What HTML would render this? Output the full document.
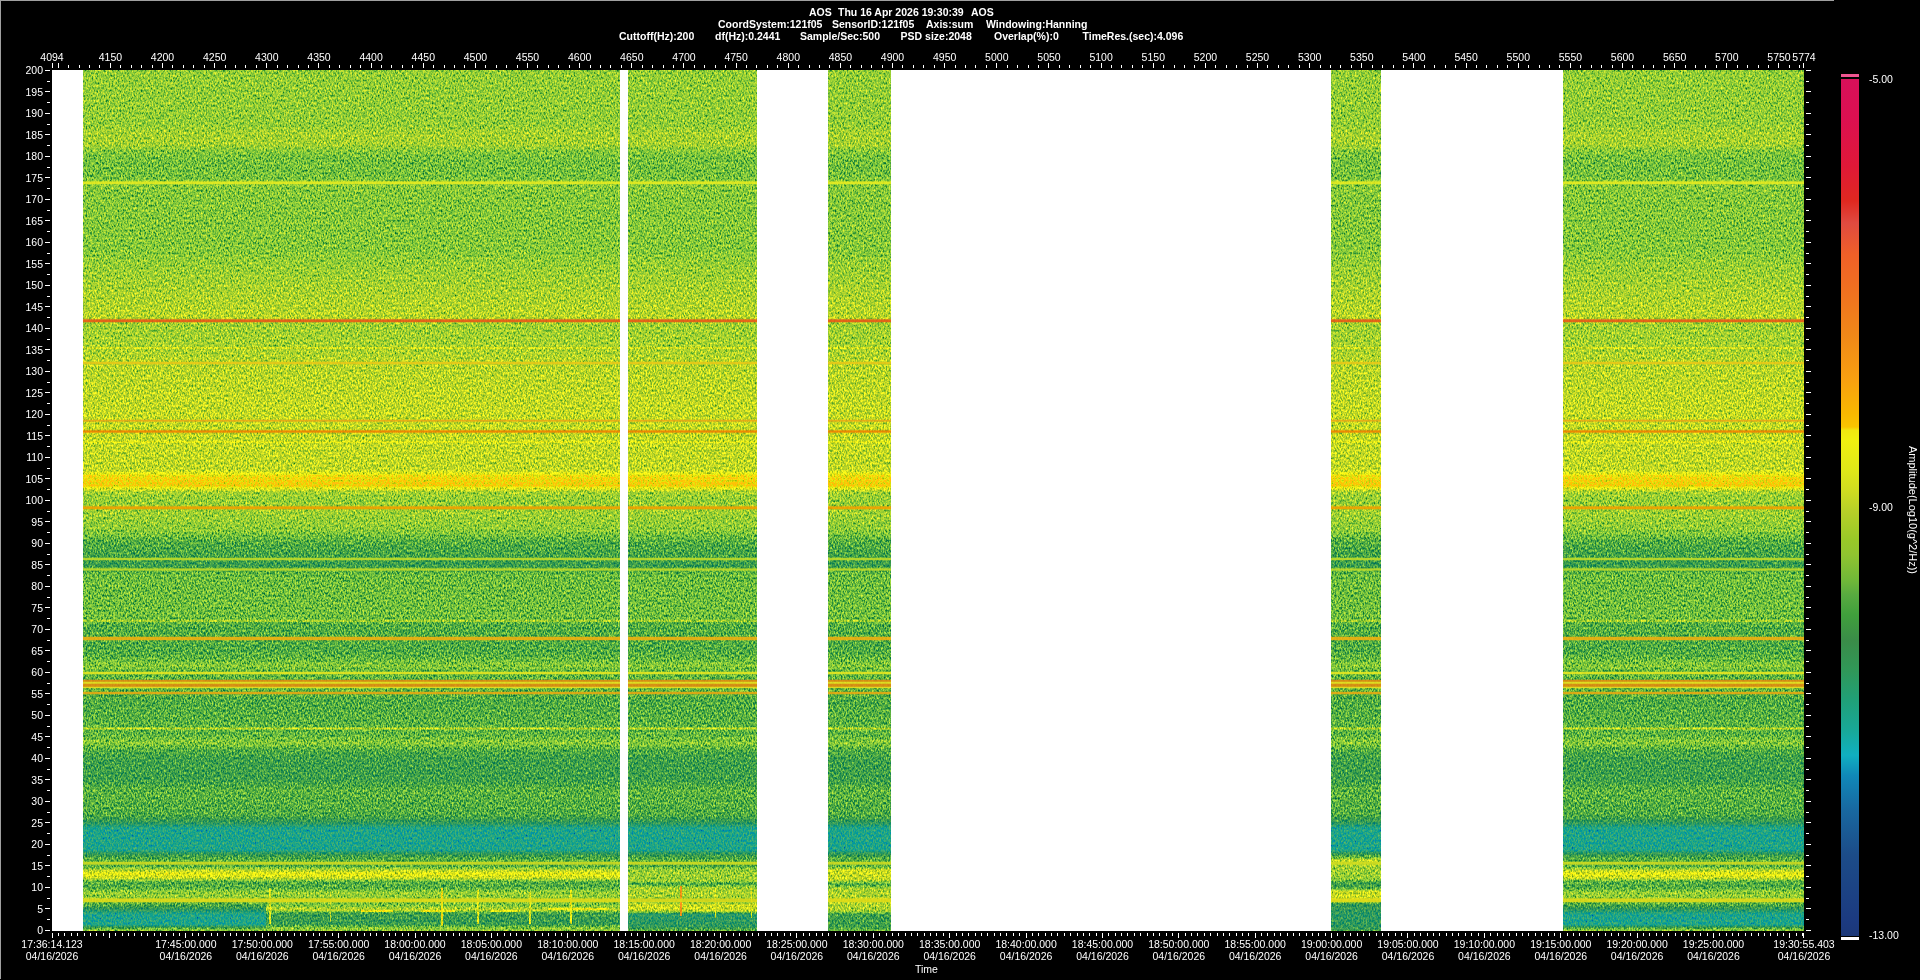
<!DOCTYPE html><html><head><meta charset="utf-8"><style>
html,body{margin:0;padding:0;background:#000;width:1920px;height:980px;overflow:hidden;position:relative}#tx{position:absolute;left:0;top:0;width:1920px;height:980px;will-change:transform}
.t{position:absolute;color:#fff;font:10.5px/12px "Liberation Sans", sans-serif;white-space:nowrap;-webkit-font-smoothing:antialiased}
.b{font-weight:bold}
.k{position:absolute;background:#fff}
</style></head><body>
<div style="position:absolute;left:0;top:0;width:1834px;height:1px;background:#a0a0a0"></div>
<div style="position:absolute;left:0;top:0;width:1px;height:979px;background:#a0a0a0"></div>
<svg style="position:absolute;left:0;top:0" width="1920" height="980"><defs><linearGradient id="bg" x1="0" y1="0" x2="0" y2="1"><stop offset="0.00000" stop-color="rgb(115,115,115)"/><stop offset="0.06388" stop-color="rgb(115,115,115)"/><stop offset="0.07317" stop-color="rgb(120,120,120)"/><stop offset="0.08711" stop-color="rgb(120,120,120)"/><stop offset="0.09292" stop-color="rgb(112,112,112)"/><stop offset="0.10221" stop-color="rgb(107,107,107)"/><stop offset="0.12311" stop-color="rgb(107,107,107)"/><stop offset="0.13473" stop-color="rgb(112,112,112)"/><stop offset="0.14518" stop-color="rgb(111,111,111)"/><stop offset="0.20906" stop-color="rgb(111,111,111)"/><stop offset="0.22300" stop-color="rgb(115,115,115)"/><stop offset="0.25552" stop-color="rgb(121,121,121)"/><stop offset="0.28804" stop-color="rgb(126,126,126)"/><stop offset="0.29617" stop-color="rgb(119,119,119)"/><stop offset="0.31940" stop-color="rgb(120,120,120)"/><stop offset="0.33914" stop-color="rgb(125,125,125)"/><stop offset="0.38328" stop-color="rgb(128,128,128)"/><stop offset="0.40418" stop-color="rgb(129,129,129)"/><stop offset="0.46458" stop-color="rgb(128,128,128)"/><stop offset="0.47154" stop-color="rgb(149,149,149)"/><stop offset="0.48316" stop-color="rgb(153,153,153)"/><stop offset="0.49013" stop-color="rgb(120,120,120)"/><stop offset="0.49942" stop-color="rgb(115,115,115)"/><stop offset="0.51103" stop-color="rgb(119,119,119)"/><stop offset="0.53426" stop-color="rgb(113,113,113)"/><stop offset="0.54820" stop-color="rgb(99,99,99)"/><stop offset="0.56446" stop-color="rgb(94,94,94)"/><stop offset="0.57491" stop-color="rgb(89,89,89)"/><stop offset="0.58653" stop-color="rgb(105,105,105)"/><stop offset="0.63298" stop-color="rgb(106,106,106)"/><stop offset="0.64460" stop-color="rgb(99,99,99)"/><stop offset="0.67364" stop-color="rgb(98,98,98)"/><stop offset="0.68293" stop-color="rgb(102,102,102)"/><stop offset="0.69222" stop-color="rgb(112,112,112)"/><stop offset="0.69803" stop-color="rgb(102,102,102)"/><stop offset="0.72009" stop-color="rgb(102,102,102)"/><stop offset="0.73171" stop-color="rgb(98,98,98)"/><stop offset="0.77236" stop-color="rgb(102,102,102)"/><stop offset="0.78165" stop-color="rgb(112,112,112)"/><stop offset="0.78978" stop-color="rgb(98,98,98)"/><stop offset="0.80139" stop-color="rgb(92,92,92)"/><stop offset="0.82462" stop-color="rgb(92,92,92)"/><stop offset="0.83624" stop-color="rgb(101,101,101)"/><stop offset="0.86527" stop-color="rgb(98,98,98)"/><stop offset="0.87340" stop-color="rgb(84,84,84)"/><stop offset="0.88037" stop-color="rgb(66,66,66)"/><stop offset="0.90592" stop-color="rgb(66,66,66)"/><stop offset="0.91289" stop-color="rgb(92,92,92)"/><stop offset="0.91870" stop-color="rgb(102,102,102)"/><stop offset="0.92451" stop-color="rgb(97,97,97)"/><stop offset="0.92915" stop-color="rgb(125,125,125)"/><stop offset="0.93380" stop-color="rgb(143,143,143)"/><stop offset="0.93844" stop-color="rgb(130,130,130)"/><stop offset="0.94309" stop-color="rgb(99,99,99)"/><stop offset="0.95006" stop-color="rgb(99,99,99)"/><stop offset="0.95470" stop-color="rgb(115,115,115)"/><stop offset="0.95935" stop-color="rgb(115,115,115)"/><stop offset="0.96980" stop-color="rgb(97,97,97)"/><stop offset="0.97561" stop-color="rgb(79,79,79)"/><stop offset="0.98026" stop-color="rgb(66,66,66)"/><stop offset="0.99303" stop-color="rgb(66,66,66)"/><stop offset="0.99768" stop-color="rgb(107,107,107)"/><stop offset="1.00000" stop-color="rgb(115,115,115)"/></linearGradient><filter id="nz" x="52" y="70" width="1752" height="861" filterUnits="userSpaceOnUse" color-interpolation-filters="sRGB"><feTurbulence type="fractalNoise" baseFrequency="0.65 0.4" numOctaves="2" seed="7" result="n"/><feColorMatrix in="n" type="matrix" values="1 0 0 0 0 1 0 0 0 0 1 0 0 0 0 0 0 0 0 1" result="g0"/><feComponentTransfer in="g0" result="g1"><feFuncR type="gamma" amplitude="1" exponent="0.4" offset="0"/><feFuncG type="gamma" amplitude="1" exponent="0.4" offset="0"/><feFuncB type="gamma" amplitude="1" exponent="0.4" offset="0"/></feComponentTransfer><feComposite in="SourceGraphic" in2="g0" operator="arithmetic" k1="0" k2="1" k3="0.2" k4="-0.1000" result="v"/><feComponentTransfer in="v" result="base"><feFuncR type="table" tableValues="0.110 0.110 0.110 0.110 0.110 0.110 0.110 0.110 0.110 0.110 0.107 0.104 0.100 0.097 0.094 0.086 0.077 0.069 0.063 0.063 0.063 0.074 0.085 0.096 0.105 0.115 0.124 0.138 0.152 0.166 0.179 0.191 0.203 0.216 0.235 0.255 0.283 0.326 0.370 0.419 0.461 0.500 0.538 0.577 0.615 0.648 0.681 0.714 0.755 0.798 0.832 0.860 0.884 0.903 0.922 0.941 0.941 0.973 0.973 0.973 0.973 0.973 0.970 0.964 0.958 0.951 0.945 0.941 0.941 0.941 0.941 0.941 0.941 0.941 0.941 0.941 0.933 0.915 0.897 0.879 0.878 0.878 0.878 0.878 0.878 0.878 0.877 0.874 0.870 0.867 0.864 0.861 0.857 0.854 0.850 0.847"/><feFuncG type="table" tableValues="0.220 0.225 0.232 0.241 0.251 0.260 0.270 0.279 0.288 0.298 0.320 0.342 0.364 0.386 0.409 0.442 0.475 0.508 0.550 0.618 0.687 0.679 0.668 0.657 0.648 0.638 0.629 0.619 0.610 0.600 0.596 0.596 0.596 0.600 0.616 0.633 0.651 0.673 0.698 0.736 0.762 0.777 0.792 0.803 0.812 0.818 0.824 0.830 0.843 0.857 0.875 0.896 0.913 0.922 0.932 0.941 0.911 0.751 0.720 0.695 0.669 0.644 0.621 0.602 0.583 0.564 0.545 0.526 0.507 0.488 0.470 0.451 0.433 0.417 0.401 0.385 0.365 0.340 0.316 0.291 0.238 0.184 0.149 0.133 0.118 0.102 0.091 0.085 0.078 0.072 0.066 0.063 0.063 0.063 0.063 0.063"/><feFuncB type="table" tableValues="0.471 0.491 0.504 0.508 0.512 0.517 0.521 0.525 0.529 0.533 0.552 0.571 0.590 0.609 0.628 0.653 0.678 0.703 0.725 0.739 0.752 0.699 0.642 0.589 0.551 0.513 0.475 0.446 0.418 0.389 0.366 0.347 0.328 0.310 0.293 0.277 0.264 0.257 0.249 0.239 0.234 0.231 0.228 0.213 0.195 0.183 0.171 0.159 0.146 0.131 0.117 0.103 0.091 0.082 0.072 0.063 0.063 0.000 0.001 0.018 0.035 0.052 0.065 0.071 0.078 0.084 0.090 0.097 0.103 0.109 0.115 0.122 0.128 0.137 0.145 0.153 0.170 0.196 0.223 0.250 0.202 0.151 0.137 0.161 0.184 0.208 0.229 0.248 0.267 0.286 0.305 0.319 0.327 0.336 0.344 0.353"/></feComponentTransfer><feColorMatrix in="g1" type="matrix" values="1.2 0 0 0 -0.4010 0 0.85 0 0 -0.1382 0 0 0.3 0 0.2748 0 0 0 0 1" result="g"/><feComposite in="base" in2="g" operator="arithmetic" k1="0" k2="1" k3="0.95" k4="-0.4750"/></filter></defs><g filter="url(#nz)"><rect x="52" y="70" width="1752" height="861" fill="url(#bg)"/><linearGradient id="pg0" x1="0" y1="0" x2="0" y2="1"><stop offset="0.00000" stop-color="rgb(115,115,115)"/><stop offset="0.16129" stop-color="rgb(107,107,107)"/><stop offset="0.32258" stop-color="rgb(128,128,128)"/><stop offset="0.41935" stop-color="rgb(92,92,92)"/><stop offset="0.77419" stop-color="rgb(87,87,87)"/><stop offset="0.90323" stop-color="rgb(112,112,112)"/><stop offset="1.00000" stop-color="rgb(115,115,115)"/></linearGradient><rect x="266" y="900" width="354" height="31" fill="url(#pg0)"/><linearGradient id="pg1" x1="0" y1="0" x2="0" y2="1"><stop offset="0.00000" stop-color="rgb(97,97,97)"/><stop offset="0.06154" stop-color="rgb(117,117,117)"/><stop offset="0.23077" stop-color="rgb(117,117,117)"/><stop offset="0.27692" stop-color="rgb(94,94,94)"/><stop offset="0.33846" stop-color="rgb(122,122,122)"/><stop offset="0.47692" stop-color="rgb(120,120,120)"/><stop offset="0.52308" stop-color="rgb(92,92,92)"/><stop offset="0.60000" stop-color="rgb(133,133,133)"/><stop offset="0.69231" stop-color="rgb(128,128,128)"/><stop offset="0.73846" stop-color="rgb(76,76,76)"/><stop offset="0.93846" stop-color="rgb(82,82,82)"/><stop offset="1.00000" stop-color="rgb(107,107,107)"/></linearGradient><rect x="628" y="866" width="129" height="65" fill="url(#pg1)"/><linearGradient id="pg2" x1="0" y1="0" x2="0" y2="1"><stop offset="0.00000" stop-color="rgb(97,97,97)"/><stop offset="0.06154" stop-color="rgb(133,133,133)"/><stop offset="0.21538" stop-color="rgb(128,128,128)"/><stop offset="0.27692" stop-color="rgb(94,94,94)"/><stop offset="0.35385" stop-color="rgb(122,122,122)"/><stop offset="0.69231" stop-color="rgb(122,122,122)"/><stop offset="0.73846" stop-color="rgb(92,92,92)"/><stop offset="0.93846" stop-color="rgb(92,92,92)"/><stop offset="1.00000" stop-color="rgb(107,107,107)"/></linearGradient><rect x="828" y="866" width="63" height="65" fill="url(#pg2)"/><linearGradient id="pg3" x1="0" y1="0" x2="0" y2="1"><stop offset="0.00000" stop-color="rgb(76,76,76)"/><stop offset="0.06329" stop-color="rgb(102,102,102)"/><stop offset="0.10127" stop-color="rgb(128,128,128)"/><stop offset="0.16456" stop-color="rgb(120,120,120)"/><stop offset="0.34177" stop-color="rgb(115,115,115)"/><stop offset="0.39241" stop-color="rgb(92,92,92)"/><stop offset="0.45570" stop-color="rgb(97,97,97)"/><stop offset="0.50633" stop-color="rgb(133,133,133)"/><stop offset="0.60759" stop-color="rgb(128,128,128)"/><stop offset="0.65823" stop-color="rgb(87,87,87)"/><stop offset="0.79747" stop-color="rgb(79,79,79)"/><stop offset="0.97468" stop-color="rgb(84,84,84)"/><stop offset="1.00000" stop-color="rgb(102,102,102)"/></linearGradient><rect x="1331" y="852" width="50" height="79" fill="url(#pg3)"/><rect x="269" y="888" width="2" height="36" fill="rgb(140,140,140)"/><rect x="330" y="892" width="1" height="30" fill="rgb(128,128,128)"/><rect x="441" y="888" width="2" height="38" fill="rgb(148,148,148)"/><rect x="477" y="890" width="2" height="34" fill="rgb(140,140,140)"/><rect x="529" y="892" width="2" height="32" fill="rgb(140,140,140)"/><rect x="570" y="890" width="2" height="34" fill="rgb(143,143,143)"/><rect x="680" y="886" width="2" height="30" fill="rgb(173,173,173)"/><rect x="715" y="888" width="1" height="30" fill="rgb(140,140,140)"/><rect x="751" y="888" width="1" height="30" fill="rgb(140,140,140)"/><rect x="361" y="910" width="32" height="2" fill="rgb(145,145,145)"/><rect x="421" y="910" width="34" height="2" fill="rgb(145,145,145)"/><rect x="490" y="910" width="30" height="2" fill="rgb(140,140,140)"/><rect x="548" y="908" width="60" height="2" fill="rgb(143,143,143)"/><rect x="52" y="347" width="1752" height="2" fill="rgb(133,133,133)"/><rect x="52" y="441" width="1752" height="2" fill="rgb(138,138,138)"/><rect x="52" y="619.5" width="1752" height="2.5" fill="rgb(120,120,120)"/><rect x="52" y="727.5" width="1752" height="2" fill="rgb(128,128,128)"/></g><rect x="52" y="180.75" width="1752" height="4.0" fill="#e8ec20" fill-opacity="0.3"/><rect x="52" y="181.5" width="1752" height="2.5" fill="#e8ec20" fill-opacity="0.85"/><rect x="52" y="318.75" width="1752" height="4.0" fill="#e85818" fill-opacity="0.3"/><rect x="52" y="319.5" width="1752" height="2.5" fill="#e85818" fill-opacity="0.85"/><rect x="52" y="361.25" width="1752" height="3.5" fill="#e8c818" fill-opacity="0.3"/><rect x="52" y="362" width="1752" height="2" fill="#e8c818" fill-opacity="0.85"/><rect x="52" y="419.25" width="1752" height="3.0" fill="#e8a818" fill-opacity="0.3"/><rect x="52" y="420" width="1752" height="1.5" fill="#e8a818" fill-opacity="0.85"/><rect x="52" y="429.75" width="1752" height="3.5" fill="#f08000" fill-opacity="0.3"/><rect x="52" y="430.5" width="1752" height="2" fill="#f08000" fill-opacity="0.85"/><rect x="52" y="505.75" width="1752" height="4.0" fill="#f0a000" fill-opacity="0.3"/><rect x="52" y="506.5" width="1752" height="2.5" fill="#f0a000" fill-opacity="0.85"/><rect x="52" y="557.25" width="1752" height="3.5" fill="#c0dc28" fill-opacity="0.3"/><rect x="52" y="558" width="1752" height="2" fill="#c0dc28" fill-opacity="0.85"/><rect x="52" y="567.75" width="1752" height="3.5" fill="#c0dc28" fill-opacity="0.3"/><rect x="52" y="568.5" width="1752" height="2" fill="#c0dc28" fill-opacity="0.85"/><rect x="52" y="636.25" width="1752" height="4.5" fill="#f0b010" fill-opacity="0.3"/><rect x="52" y="637" width="1752" height="3" fill="#f0b010" fill-opacity="0.85"/><rect x="52" y="671.25" width="1752" height="3.5" fill="#e8e820" fill-opacity="0.3"/><rect x="52" y="672" width="1752" height="2" fill="#e8e820" fill-opacity="0.85"/><rect x="52" y="679.25" width="1752" height="3.5" fill="#e08a10" fill-opacity="0.3"/><rect x="52" y="680" width="1752" height="2" fill="#e08a10" fill-opacity="0.85"/><rect x="52" y="681.25" width="1752" height="3.5" fill="#e8e020" fill-opacity="0.3"/><rect x="52" y="682" width="1752" height="2" fill="#e8e020" fill-opacity="0.85"/><rect x="52" y="683.25" width="1752" height="4.5" fill="#e08a10" fill-opacity="0.3"/><rect x="52" y="684" width="1752" height="3" fill="#e08a10" fill-opacity="0.85"/><rect x="52" y="686.25" width="1752" height="2.5" fill="#e8e020" fill-opacity="0.3"/><rect x="52" y="687" width="1752" height="1" fill="#e8e020" fill-opacity="0.85"/><rect x="52" y="691.25" width="1752" height="3.5" fill="#e8a810" fill-opacity="0.3"/><rect x="52" y="692" width="1752" height="2" fill="#e8a810" fill-opacity="0.85"/><rect x="52" y="861.25" width="1752" height="4.0" fill="#d0dc20" fill-opacity="0.3"/><rect x="52" y="862" width="1752" height="2.5" fill="#d0dc20" fill-opacity="0.85"/><rect x="52" y="897.75" width="1752" height="5.0" fill="#e0dc18" fill-opacity="0.3"/><rect x="52" y="898.5" width="1752" height="3.5" fill="#e0dc18" fill-opacity="0.85"/><rect x="52" y="70" width="31" height="861" fill="#fff"/><rect x="620" y="70" width="8" height="861" fill="#fff"/><rect x="757" y="70" width="71" height="861" fill="#fff"/><rect x="891" y="70" width="440" height="861" fill="#fff"/><rect x="1381" y="70" width="182" height="861" fill="#fff"/><rect x="58.00" y="63" width="1" height="5" fill="#fff"/><rect x="68.00" y="65" width="1" height="3" fill="#fff"/><rect x="79.00" y="65" width="1" height="3" fill="#fff"/><rect x="89.00" y="65" width="1" height="3" fill="#fff"/><rect x="99.00" y="65" width="1" height="3" fill="#fff"/><rect x="110.00" y="63" width="1" height="5" fill="#fff"/><rect x="120.00" y="65" width="1" height="3" fill="#fff"/><rect x="131.00" y="65" width="1" height="3" fill="#fff"/><rect x="141.00" y="65" width="1" height="3" fill="#fff"/><rect x="152.00" y="65" width="1" height="3" fill="#fff"/><rect x="162.00" y="63" width="1" height="5" fill="#fff"/><rect x="172.00" y="65" width="1" height="3" fill="#fff"/><rect x="183.00" y="65" width="1" height="3" fill="#fff"/><rect x="193.00" y="65" width="1" height="3" fill="#fff"/><rect x="204.00" y="65" width="1" height="3" fill="#fff"/><rect x="214.00" y="63" width="1" height="5" fill="#fff"/><rect x="225.00" y="65" width="1" height="3" fill="#fff"/><rect x="235.00" y="65" width="1" height="3" fill="#fff"/><rect x="245.00" y="65" width="1" height="3" fill="#fff"/><rect x="256.00" y="65" width="1" height="3" fill="#fff"/><rect x="266.00" y="63" width="1" height="5" fill="#fff"/><rect x="277.00" y="65" width="1" height="3" fill="#fff"/><rect x="287.00" y="65" width="1" height="3" fill="#fff"/><rect x="298.00" y="65" width="1" height="3" fill="#fff"/><rect x="308.00" y="65" width="1" height="3" fill="#fff"/><rect x="318.00" y="63" width="1" height="5" fill="#fff"/><rect x="329.00" y="65" width="1" height="3" fill="#fff"/><rect x="339.00" y="65" width="1" height="3" fill="#fff"/><rect x="350.00" y="65" width="1" height="3" fill="#fff"/><rect x="360.00" y="65" width="1" height="3" fill="#fff"/><rect x="371.00" y="63" width="1" height="5" fill="#fff"/><rect x="381.00" y="65" width="1" height="3" fill="#fff"/><rect x="391.00" y="65" width="1" height="3" fill="#fff"/><rect x="402.00" y="65" width="1" height="3" fill="#fff"/><rect x="412.00" y="65" width="1" height="3" fill="#fff"/><rect x="423.00" y="63" width="1" height="5" fill="#fff"/><rect x="433.00" y="65" width="1" height="3" fill="#fff"/><rect x="444.00" y="65" width="1" height="3" fill="#fff"/><rect x="454.00" y="65" width="1" height="3" fill="#fff"/><rect x="464.00" y="65" width="1" height="3" fill="#fff"/><rect x="475.00" y="63" width="1" height="5" fill="#fff"/><rect x="485.00" y="65" width="1" height="3" fill="#fff"/><rect x="496.00" y="65" width="1" height="3" fill="#fff"/><rect x="506.00" y="65" width="1" height="3" fill="#fff"/><rect x="517.00" y="65" width="1" height="3" fill="#fff"/><rect x="527.00" y="63" width="1" height="5" fill="#fff"/><rect x="537.00" y="65" width="1" height="3" fill="#fff"/><rect x="548.00" y="65" width="1" height="3" fill="#fff"/><rect x="558.00" y="65" width="1" height="3" fill="#fff"/><rect x="569.00" y="65" width="1" height="3" fill="#fff"/><rect x="579.00" y="63" width="1" height="5" fill="#fff"/><rect x="590.00" y="65" width="1" height="3" fill="#fff"/><rect x="600.00" y="65" width="1" height="3" fill="#fff"/><rect x="610.00" y="65" width="1" height="3" fill="#fff"/><rect x="621.00" y="65" width="1" height="3" fill="#fff"/><rect x="631.00" y="63" width="1" height="5" fill="#fff"/><rect x="642.00" y="65" width="1" height="3" fill="#fff"/><rect x="652.00" y="65" width="1" height="3" fill="#fff"/><rect x="663.00" y="65" width="1" height="3" fill="#fff"/><rect x="673.00" y="65" width="1" height="3" fill="#fff"/><rect x="683.00" y="63" width="1" height="5" fill="#fff"/><rect x="694.00" y="65" width="1" height="3" fill="#fff"/><rect x="704.00" y="65" width="1" height="3" fill="#fff"/><rect x="715.00" y="65" width="1" height="3" fill="#fff"/><rect x="725.00" y="65" width="1" height="3" fill="#fff"/><rect x="736.00" y="63" width="1" height="5" fill="#fff"/><rect x="746.00" y="65" width="1" height="3" fill="#fff"/><rect x="756.00" y="65" width="1" height="3" fill="#fff"/><rect x="767.00" y="65" width="1" height="3" fill="#fff"/><rect x="777.00" y="65" width="1" height="3" fill="#fff"/><rect x="788.00" y="63" width="1" height="5" fill="#fff"/><rect x="798.00" y="65" width="1" height="3" fill="#fff"/><rect x="809.00" y="65" width="1" height="3" fill="#fff"/><rect x="819.00" y="65" width="1" height="3" fill="#fff"/><rect x="829.00" y="65" width="1" height="3" fill="#fff"/><rect x="840.00" y="63" width="1" height="5" fill="#fff"/><rect x="850.00" y="65" width="1" height="3" fill="#fff"/><rect x="861.00" y="65" width="1" height="3" fill="#fff"/><rect x="871.00" y="65" width="1" height="3" fill="#fff"/><rect x="882.00" y="65" width="1" height="3" fill="#fff"/><rect x="892.00" y="63" width="1" height="5" fill="#fff"/><rect x="902.00" y="65" width="1" height="3" fill="#fff"/><rect x="913.00" y="65" width="1" height="3" fill="#fff"/><rect x="923.00" y="65" width="1" height="3" fill="#fff"/><rect x="934.00" y="65" width="1" height="3" fill="#fff"/><rect x="944.00" y="63" width="1" height="5" fill="#fff"/><rect x="955.00" y="65" width="1" height="3" fill="#fff"/><rect x="965.00" y="65" width="1" height="3" fill="#fff"/><rect x="975.00" y="65" width="1" height="3" fill="#fff"/><rect x="986.00" y="65" width="1" height="3" fill="#fff"/><rect x="996.00" y="63" width="1" height="5" fill="#fff"/><rect x="1007.00" y="65" width="1" height="3" fill="#fff"/><rect x="1017.00" y="65" width="1" height="3" fill="#fff"/><rect x="1028.00" y="65" width="1" height="3" fill="#fff"/><rect x="1038.00" y="65" width="1" height="3" fill="#fff"/><rect x="1048.00" y="63" width="1" height="5" fill="#fff"/><rect x="1059.00" y="65" width="1" height="3" fill="#fff"/><rect x="1069.00" y="65" width="1" height="3" fill="#fff"/><rect x="1080.00" y="65" width="1" height="3" fill="#fff"/><rect x="1090.00" y="65" width="1" height="3" fill="#fff"/><rect x="1101.00" y="63" width="1" height="5" fill="#fff"/><rect x="1111.00" y="65" width="1" height="3" fill="#fff"/><rect x="1121.00" y="65" width="1" height="3" fill="#fff"/><rect x="1132.00" y="65" width="1" height="3" fill="#fff"/><rect x="1142.00" y="65" width="1" height="3" fill="#fff"/><rect x="1153.00" y="63" width="1" height="5" fill="#fff"/><rect x="1163.00" y="65" width="1" height="3" fill="#fff"/><rect x="1174.00" y="65" width="1" height="3" fill="#fff"/><rect x="1184.00" y="65" width="1" height="3" fill="#fff"/><rect x="1194.00" y="65" width="1" height="3" fill="#fff"/><rect x="1205.00" y="63" width="1" height="5" fill="#fff"/><rect x="1215.00" y="65" width="1" height="3" fill="#fff"/><rect x="1226.00" y="65" width="1" height="3" fill="#fff"/><rect x="1236.00" y="65" width="1" height="3" fill="#fff"/><rect x="1247.00" y="65" width="1" height="3" fill="#fff"/><rect x="1257.00" y="63" width="1" height="5" fill="#fff"/><rect x="1267.00" y="65" width="1" height="3" fill="#fff"/><rect x="1278.00" y="65" width="1" height="3" fill="#fff"/><rect x="1288.00" y="65" width="1" height="3" fill="#fff"/><rect x="1299.00" y="65" width="1" height="3" fill="#fff"/><rect x="1309.00" y="63" width="1" height="5" fill="#fff"/><rect x="1320.00" y="65" width="1" height="3" fill="#fff"/><rect x="1330.00" y="65" width="1" height="3" fill="#fff"/><rect x="1340.00" y="65" width="1" height="3" fill="#fff"/><rect x="1351.00" y="65" width="1" height="3" fill="#fff"/><rect x="1361.00" y="63" width="1" height="5" fill="#fff"/><rect x="1372.00" y="65" width="1" height="3" fill="#fff"/><rect x="1382.00" y="65" width="1" height="3" fill="#fff"/><rect x="1393.00" y="65" width="1" height="3" fill="#fff"/><rect x="1403.00" y="65" width="1" height="3" fill="#fff"/><rect x="1413.00" y="63" width="1" height="5" fill="#fff"/><rect x="1424.00" y="65" width="1" height="3" fill="#fff"/><rect x="1434.00" y="65" width="1" height="3" fill="#fff"/><rect x="1445.00" y="65" width="1" height="3" fill="#fff"/><rect x="1455.00" y="65" width="1" height="3" fill="#fff"/><rect x="1466.00" y="63" width="1" height="5" fill="#fff"/><rect x="1476.00" y="65" width="1" height="3" fill="#fff"/><rect x="1486.00" y="65" width="1" height="3" fill="#fff"/><rect x="1497.00" y="65" width="1" height="3" fill="#fff"/><rect x="1507.00" y="65" width="1" height="3" fill="#fff"/><rect x="1518.00" y="63" width="1" height="5" fill="#fff"/><rect x="1528.00" y="65" width="1" height="3" fill="#fff"/><rect x="1539.00" y="65" width="1" height="3" fill="#fff"/><rect x="1549.00" y="65" width="1" height="3" fill="#fff"/><rect x="1559.00" y="65" width="1" height="3" fill="#fff"/><rect x="1570.00" y="63" width="1" height="5" fill="#fff"/><rect x="1580.00" y="65" width="1" height="3" fill="#fff"/><rect x="1591.00" y="65" width="1" height="3" fill="#fff"/><rect x="1601.00" y="65" width="1" height="3" fill="#fff"/><rect x="1612.00" y="65" width="1" height="3" fill="#fff"/><rect x="1622.00" y="63" width="1" height="5" fill="#fff"/><rect x="1632.00" y="65" width="1" height="3" fill="#fff"/><rect x="1643.00" y="65" width="1" height="3" fill="#fff"/><rect x="1653.00" y="65" width="1" height="3" fill="#fff"/><rect x="1664.00" y="65" width="1" height="3" fill="#fff"/><rect x="1674.00" y="63" width="1" height="5" fill="#fff"/><rect x="1685.00" y="65" width="1" height="3" fill="#fff"/><rect x="1695.00" y="65" width="1" height="3" fill="#fff"/><rect x="1705.00" y="65" width="1" height="3" fill="#fff"/><rect x="1716.00" y="65" width="1" height="3" fill="#fff"/><rect x="1726.00" y="63" width="1" height="5" fill="#fff"/><rect x="1737.00" y="65" width="1" height="3" fill="#fff"/><rect x="1747.00" y="65" width="1" height="3" fill="#fff"/><rect x="1758.00" y="65" width="1" height="3" fill="#fff"/><rect x="1768.00" y="65" width="1" height="3" fill="#fff"/><rect x="1778.00" y="63" width="1" height="5" fill="#fff"/><rect x="1789.00" y="65" width="1" height="3" fill="#fff"/><rect x="1799.00" y="65" width="1" height="3" fill="#fff"/><rect x="52.00" y="63" width="1" height="5" fill="#fff"/><rect x="1803.00" y="63" width="1" height="5" fill="#fff"/><rect x="45" y="930.00" width="5" height="1" fill="#fff"/><rect x="1806" y="930.00" width="5" height="1" fill="#fff"/><rect x="47" y="919.00" width="3" height="1" fill="#fff"/><rect x="1806" y="919.00" width="3" height="1" fill="#fff"/><rect x="45" y="908.00" width="5" height="1" fill="#fff"/><rect x="1806" y="908.00" width="5" height="1" fill="#fff"/><rect x="47" y="898.00" width="3" height="1" fill="#fff"/><rect x="1806" y="898.00" width="3" height="1" fill="#fff"/><rect x="45" y="887.00" width="5" height="1" fill="#fff"/><rect x="1806" y="887.00" width="5" height="1" fill="#fff"/><rect x="47" y="876.00" width="3" height="1" fill="#fff"/><rect x="1806" y="876.00" width="3" height="1" fill="#fff"/><rect x="45" y="865.00" width="5" height="1" fill="#fff"/><rect x="1806" y="865.00" width="5" height="1" fill="#fff"/><rect x="47" y="855.00" width="3" height="1" fill="#fff"/><rect x="1806" y="855.00" width="3" height="1" fill="#fff"/><rect x="45" y="844.00" width="5" height="1" fill="#fff"/><rect x="1806" y="844.00" width="5" height="1" fill="#fff"/><rect x="47" y="833.00" width="3" height="1" fill="#fff"/><rect x="1806" y="833.00" width="3" height="1" fill="#fff"/><rect x="45" y="822.00" width="5" height="1" fill="#fff"/><rect x="1806" y="822.00" width="5" height="1" fill="#fff"/><rect x="47" y="812.00" width="3" height="1" fill="#fff"/><rect x="1806" y="812.00" width="3" height="1" fill="#fff"/><rect x="45" y="801.00" width="5" height="1" fill="#fff"/><rect x="1806" y="801.00" width="5" height="1" fill="#fff"/><rect x="47" y="790.00" width="3" height="1" fill="#fff"/><rect x="1806" y="790.00" width="3" height="1" fill="#fff"/><rect x="45" y="779.00" width="5" height="1" fill="#fff"/><rect x="1806" y="779.00" width="5" height="1" fill="#fff"/><rect x="47" y="769.00" width="3" height="1" fill="#fff"/><rect x="1806" y="769.00" width="3" height="1" fill="#fff"/><rect x="45" y="758.00" width="5" height="1" fill="#fff"/><rect x="1806" y="758.00" width="5" height="1" fill="#fff"/><rect x="47" y="747.00" width="3" height="1" fill="#fff"/><rect x="1806" y="747.00" width="3" height="1" fill="#fff"/><rect x="45" y="736.00" width="5" height="1" fill="#fff"/><rect x="1806" y="736.00" width="5" height="1" fill="#fff"/><rect x="47" y="726.00" width="3" height="1" fill="#fff"/><rect x="1806" y="726.00" width="3" height="1" fill="#fff"/><rect x="45" y="715.00" width="5" height="1" fill="#fff"/><rect x="1806" y="715.00" width="5" height="1" fill="#fff"/><rect x="47" y="704.00" width="3" height="1" fill="#fff"/><rect x="1806" y="704.00" width="3" height="1" fill="#fff"/><rect x="45" y="693.00" width="5" height="1" fill="#fff"/><rect x="1806" y="693.00" width="5" height="1" fill="#fff"/><rect x="47" y="683.00" width="3" height="1" fill="#fff"/><rect x="1806" y="683.00" width="3" height="1" fill="#fff"/><rect x="45" y="672.00" width="5" height="1" fill="#fff"/><rect x="1806" y="672.00" width="5" height="1" fill="#fff"/><rect x="47" y="661.00" width="3" height="1" fill="#fff"/><rect x="1806" y="661.00" width="3" height="1" fill="#fff"/><rect x="45" y="650.00" width="5" height="1" fill="#fff"/><rect x="1806" y="650.00" width="5" height="1" fill="#fff"/><rect x="47" y="640.00" width="3" height="1" fill="#fff"/><rect x="1806" y="640.00" width="3" height="1" fill="#fff"/><rect x="45" y="629.00" width="5" height="1" fill="#fff"/><rect x="1806" y="629.00" width="5" height="1" fill="#fff"/><rect x="47" y="618.00" width="3" height="1" fill="#fff"/><rect x="1806" y="618.00" width="3" height="1" fill="#fff"/><rect x="45" y="607.00" width="5" height="1" fill="#fff"/><rect x="1806" y="607.00" width="5" height="1" fill="#fff"/><rect x="47" y="597.00" width="3" height="1" fill="#fff"/><rect x="1806" y="597.00" width="3" height="1" fill="#fff"/><rect x="45" y="586.00" width="5" height="1" fill="#fff"/><rect x="1806" y="586.00" width="5" height="1" fill="#fff"/><rect x="47" y="575.00" width="3" height="1" fill="#fff"/><rect x="1806" y="575.00" width="3" height="1" fill="#fff"/><rect x="45" y="564.00" width="5" height="1" fill="#fff"/><rect x="1806" y="564.00" width="5" height="1" fill="#fff"/><rect x="47" y="554.00" width="3" height="1" fill="#fff"/><rect x="1806" y="554.00" width="3" height="1" fill="#fff"/><rect x="45" y="543.00" width="5" height="1" fill="#fff"/><rect x="1806" y="543.00" width="5" height="1" fill="#fff"/><rect x="47" y="532.00" width="3" height="1" fill="#fff"/><rect x="1806" y="532.00" width="3" height="1" fill="#fff"/><rect x="45" y="521.00" width="5" height="1" fill="#fff"/><rect x="1806" y="521.00" width="5" height="1" fill="#fff"/><rect x="47" y="511.00" width="3" height="1" fill="#fff"/><rect x="1806" y="511.00" width="3" height="1" fill="#fff"/><rect x="45" y="500.00" width="5" height="1" fill="#fff"/><rect x="1806" y="500.00" width="5" height="1" fill="#fff"/><rect x="47" y="489.00" width="3" height="1" fill="#fff"/><rect x="1806" y="489.00" width="3" height="1" fill="#fff"/><rect x="45" y="478.00" width="5" height="1" fill="#fff"/><rect x="1806" y="478.00" width="5" height="1" fill="#fff"/><rect x="47" y="468.00" width="3" height="1" fill="#fff"/><rect x="1806" y="468.00" width="3" height="1" fill="#fff"/><rect x="45" y="457.00" width="5" height="1" fill="#fff"/><rect x="1806" y="457.00" width="5" height="1" fill="#fff"/><rect x="47" y="446.00" width="3" height="1" fill="#fff"/><rect x="1806" y="446.00" width="3" height="1" fill="#fff"/><rect x="45" y="435.00" width="5" height="1" fill="#fff"/><rect x="1806" y="435.00" width="5" height="1" fill="#fff"/><rect x="47" y="425.00" width="3" height="1" fill="#fff"/><rect x="1806" y="425.00" width="3" height="1" fill="#fff"/><rect x="45" y="414.00" width="5" height="1" fill="#fff"/><rect x="1806" y="414.00" width="5" height="1" fill="#fff"/><rect x="47" y="403.00" width="3" height="1" fill="#fff"/><rect x="1806" y="403.00" width="3" height="1" fill="#fff"/><rect x="45" y="392.00" width="5" height="1" fill="#fff"/><rect x="1806" y="392.00" width="5" height="1" fill="#fff"/><rect x="47" y="382.00" width="3" height="1" fill="#fff"/><rect x="1806" y="382.00" width="3" height="1" fill="#fff"/><rect x="45" y="371.00" width="5" height="1" fill="#fff"/><rect x="1806" y="371.00" width="5" height="1" fill="#fff"/><rect x="47" y="360.00" width="3" height="1" fill="#fff"/><rect x="1806" y="360.00" width="3" height="1" fill="#fff"/><rect x="45" y="349.00" width="5" height="1" fill="#fff"/><rect x="1806" y="349.00" width="5" height="1" fill="#fff"/><rect x="47" y="339.00" width="3" height="1" fill="#fff"/><rect x="1806" y="339.00" width="3" height="1" fill="#fff"/><rect x="45" y="328.00" width="5" height="1" fill="#fff"/><rect x="1806" y="328.00" width="5" height="1" fill="#fff"/><rect x="47" y="317.00" width="3" height="1" fill="#fff"/><rect x="1806" y="317.00" width="3" height="1" fill="#fff"/><rect x="45" y="306.00" width="5" height="1" fill="#fff"/><rect x="1806" y="306.00" width="5" height="1" fill="#fff"/><rect x="47" y="296.00" width="3" height="1" fill="#fff"/><rect x="1806" y="296.00" width="3" height="1" fill="#fff"/><rect x="45" y="285.00" width="5" height="1" fill="#fff"/><rect x="1806" y="285.00" width="5" height="1" fill="#fff"/><rect x="47" y="274.00" width="3" height="1" fill="#fff"/><rect x="1806" y="274.00" width="3" height="1" fill="#fff"/><rect x="45" y="263.00" width="5" height="1" fill="#fff"/><rect x="1806" y="263.00" width="5" height="1" fill="#fff"/><rect x="47" y="253.00" width="3" height="1" fill="#fff"/><rect x="1806" y="253.00" width="3" height="1" fill="#fff"/><rect x="45" y="242.00" width="5" height="1" fill="#fff"/><rect x="1806" y="242.00" width="5" height="1" fill="#fff"/><rect x="47" y="231.00" width="3" height="1" fill="#fff"/><rect x="1806" y="231.00" width="3" height="1" fill="#fff"/><rect x="45" y="220.00" width="5" height="1" fill="#fff"/><rect x="1806" y="220.00" width="5" height="1" fill="#fff"/><rect x="47" y="210.00" width="3" height="1" fill="#fff"/><rect x="1806" y="210.00" width="3" height="1" fill="#fff"/><rect x="45" y="199.00" width="5" height="1" fill="#fff"/><rect x="1806" y="199.00" width="5" height="1" fill="#fff"/><rect x="47" y="188.00" width="3" height="1" fill="#fff"/><rect x="1806" y="188.00" width="3" height="1" fill="#fff"/><rect x="45" y="177.00" width="5" height="1" fill="#fff"/><rect x="1806" y="177.00" width="5" height="1" fill="#fff"/><rect x="47" y="167.00" width="3" height="1" fill="#fff"/><rect x="1806" y="167.00" width="3" height="1" fill="#fff"/><rect x="45" y="156.00" width="5" height="1" fill="#fff"/><rect x="1806" y="156.00" width="5" height="1" fill="#fff"/><rect x="47" y="145.00" width="3" height="1" fill="#fff"/><rect x="1806" y="145.00" width="3" height="1" fill="#fff"/><rect x="45" y="134.00" width="5" height="1" fill="#fff"/><rect x="1806" y="134.00" width="5" height="1" fill="#fff"/><rect x="47" y="124.00" width="3" height="1" fill="#fff"/><rect x="1806" y="124.00" width="3" height="1" fill="#fff"/><rect x="45" y="113.00" width="5" height="1" fill="#fff"/><rect x="1806" y="113.00" width="5" height="1" fill="#fff"/><rect x="47" y="102.00" width="3" height="1" fill="#fff"/><rect x="1806" y="102.00" width="3" height="1" fill="#fff"/><rect x="45" y="91.00" width="5" height="1" fill="#fff"/><rect x="1806" y="91.00" width="5" height="1" fill="#fff"/><rect x="47" y="81.00" width="3" height="1" fill="#fff"/><rect x="1806" y="81.00" width="3" height="1" fill="#fff"/><rect x="45" y="70.00" width="5" height="1" fill="#fff"/><rect x="1806" y="70.00" width="5" height="1" fill="#fff"/><rect x="52.00" y="933" width="1" height="3" fill="#fff"/><rect x="58.00" y="933" width="1" height="3" fill="#fff"/><rect x="64.00" y="933" width="1" height="3" fill="#fff"/><rect x="71.00" y="933" width="1" height="3" fill="#fff"/><rect x="77.00" y="933" width="1" height="3" fill="#fff"/><rect x="84.00" y="933" width="1" height="3" fill="#fff"/><rect x="90.00" y="933" width="1" height="3" fill="#fff"/><rect x="96.00" y="933" width="1" height="3" fill="#fff"/><rect x="103.00" y="933" width="1" height="3" fill="#fff"/><rect x="109.00" y="933" width="1" height="5" fill="#fff"/><rect x="115.00" y="933" width="1" height="3" fill="#fff"/><rect x="122.00" y="933" width="1" height="3" fill="#fff"/><rect x="128.00" y="933" width="1" height="3" fill="#fff"/><rect x="134.00" y="933" width="1" height="3" fill="#fff"/><rect x="141.00" y="933" width="1" height="3" fill="#fff"/><rect x="147.00" y="933" width="1" height="3" fill="#fff"/><rect x="154.00" y="933" width="1" height="3" fill="#fff"/><rect x="160.00" y="933" width="1" height="3" fill="#fff"/><rect x="166.00" y="933" width="1" height="3" fill="#fff"/><rect x="173.00" y="933" width="1" height="3" fill="#fff"/><rect x="179.00" y="933" width="1" height="3" fill="#fff"/><rect x="185.00" y="933" width="1" height="5" fill="#fff"/><rect x="192.00" y="933" width="1" height="3" fill="#fff"/><rect x="198.00" y="933" width="1" height="3" fill="#fff"/><rect x="204.00" y="933" width="1" height="3" fill="#fff"/><rect x="211.00" y="933" width="1" height="3" fill="#fff"/><rect x="217.00" y="933" width="1" height="3" fill="#fff"/><rect x="224.00" y="933" width="1" height="3" fill="#fff"/><rect x="230.00" y="933" width="1" height="3" fill="#fff"/><rect x="236.00" y="933" width="1" height="3" fill="#fff"/><rect x="243.00" y="933" width="1" height="3" fill="#fff"/><rect x="249.00" y="933" width="1" height="3" fill="#fff"/><rect x="255.00" y="933" width="1" height="3" fill="#fff"/><rect x="262.00" y="933" width="1" height="5" fill="#fff"/><rect x="268.00" y="933" width="1" height="3" fill="#fff"/><rect x="275.00" y="933" width="1" height="3" fill="#fff"/><rect x="281.00" y="933" width="1" height="3" fill="#fff"/><rect x="287.00" y="933" width="1" height="3" fill="#fff"/><rect x="294.00" y="933" width="1" height="3" fill="#fff"/><rect x="300.00" y="933" width="1" height="3" fill="#fff"/><rect x="306.00" y="933" width="1" height="3" fill="#fff"/><rect x="313.00" y="933" width="1" height="3" fill="#fff"/><rect x="319.00" y="933" width="1" height="3" fill="#fff"/><rect x="325.00" y="933" width="1" height="3" fill="#fff"/><rect x="332.00" y="933" width="1" height="3" fill="#fff"/><rect x="338.00" y="933" width="1" height="5" fill="#fff"/><rect x="345.00" y="933" width="1" height="3" fill="#fff"/><rect x="351.00" y="933" width="1" height="3" fill="#fff"/><rect x="357.00" y="933" width="1" height="3" fill="#fff"/><rect x="364.00" y="933" width="1" height="3" fill="#fff"/><rect x="370.00" y="933" width="1" height="3" fill="#fff"/><rect x="376.00" y="933" width="1" height="3" fill="#fff"/><rect x="383.00" y="933" width="1" height="3" fill="#fff"/><rect x="389.00" y="933" width="1" height="3" fill="#fff"/><rect x="395.00" y="933" width="1" height="3" fill="#fff"/><rect x="402.00" y="933" width="1" height="3" fill="#fff"/><rect x="408.00" y="933" width="1" height="3" fill="#fff"/><rect x="415.00" y="933" width="1" height="5" fill="#fff"/><rect x="421.00" y="933" width="1" height="3" fill="#fff"/><rect x="427.00" y="933" width="1" height="3" fill="#fff"/><rect x="434.00" y="933" width="1" height="3" fill="#fff"/><rect x="440.00" y="933" width="1" height="3" fill="#fff"/><rect x="446.00" y="933" width="1" height="3" fill="#fff"/><rect x="453.00" y="933" width="1" height="3" fill="#fff"/><rect x="459.00" y="933" width="1" height="3" fill="#fff"/><rect x="465.00" y="933" width="1" height="3" fill="#fff"/><rect x="472.00" y="933" width="1" height="3" fill="#fff"/><rect x="478.00" y="933" width="1" height="3" fill="#fff"/><rect x="485.00" y="933" width="1" height="3" fill="#fff"/><rect x="491.00" y="933" width="1" height="5" fill="#fff"/><rect x="497.00" y="933" width="1" height="3" fill="#fff"/><rect x="504.00" y="933" width="1" height="3" fill="#fff"/><rect x="510.00" y="933" width="1" height="3" fill="#fff"/><rect x="516.00" y="933" width="1" height="3" fill="#fff"/><rect x="523.00" y="933" width="1" height="3" fill="#fff"/><rect x="529.00" y="933" width="1" height="3" fill="#fff"/><rect x="535.00" y="933" width="1" height="3" fill="#fff"/><rect x="542.00" y="933" width="1" height="3" fill="#fff"/><rect x="548.00" y="933" width="1" height="3" fill="#fff"/><rect x="555.00" y="933" width="1" height="3" fill="#fff"/><rect x="561.00" y="933" width="1" height="3" fill="#fff"/><rect x="567.00" y="933" width="1" height="5" fill="#fff"/><rect x="574.00" y="933" width="1" height="3" fill="#fff"/><rect x="580.00" y="933" width="1" height="3" fill="#fff"/><rect x="586.00" y="933" width="1" height="3" fill="#fff"/><rect x="593.00" y="933" width="1" height="3" fill="#fff"/><rect x="599.00" y="933" width="1" height="3" fill="#fff"/><rect x="605.00" y="933" width="1" height="3" fill="#fff"/><rect x="612.00" y="933" width="1" height="3" fill="#fff"/><rect x="618.00" y="933" width="1" height="3" fill="#fff"/><rect x="625.00" y="933" width="1" height="3" fill="#fff"/><rect x="631.00" y="933" width="1" height="3" fill="#fff"/><rect x="637.00" y="933" width="1" height="3" fill="#fff"/><rect x="644.00" y="933" width="1" height="5" fill="#fff"/><rect x="650.00" y="933" width="1" height="3" fill="#fff"/><rect x="656.00" y="933" width="1" height="3" fill="#fff"/><rect x="663.00" y="933" width="1" height="3" fill="#fff"/><rect x="669.00" y="933" width="1" height="3" fill="#fff"/><rect x="676.00" y="933" width="1" height="3" fill="#fff"/><rect x="682.00" y="933" width="1" height="3" fill="#fff"/><rect x="688.00" y="933" width="1" height="3" fill="#fff"/><rect x="695.00" y="933" width="1" height="3" fill="#fff"/><rect x="701.00" y="933" width="1" height="3" fill="#fff"/><rect x="707.00" y="933" width="1" height="3" fill="#fff"/><rect x="714.00" y="933" width="1" height="3" fill="#fff"/><rect x="720.00" y="933" width="1" height="5" fill="#fff"/><rect x="726.00" y="933" width="1" height="3" fill="#fff"/><rect x="733.00" y="933" width="1" height="3" fill="#fff"/><rect x="739.00" y="933" width="1" height="3" fill="#fff"/><rect x="746.00" y="933" width="1" height="3" fill="#fff"/><rect x="752.00" y="933" width="1" height="3" fill="#fff"/><rect x="758.00" y="933" width="1" height="3" fill="#fff"/><rect x="765.00" y="933" width="1" height="3" fill="#fff"/><rect x="771.00" y="933" width="1" height="3" fill="#fff"/><rect x="777.00" y="933" width="1" height="3" fill="#fff"/><rect x="784.00" y="933" width="1" height="3" fill="#fff"/><rect x="790.00" y="933" width="1" height="3" fill="#fff"/><rect x="796.00" y="933" width="1" height="5" fill="#fff"/><rect x="803.00" y="933" width="1" height="3" fill="#fff"/><rect x="809.00" y="933" width="1" height="3" fill="#fff"/><rect x="816.00" y="933" width="1" height="3" fill="#fff"/><rect x="822.00" y="933" width="1" height="3" fill="#fff"/><rect x="828.00" y="933" width="1" height="3" fill="#fff"/><rect x="835.00" y="933" width="1" height="3" fill="#fff"/><rect x="841.00" y="933" width="1" height="3" fill="#fff"/><rect x="847.00" y="933" width="1" height="3" fill="#fff"/><rect x="854.00" y="933" width="1" height="3" fill="#fff"/><rect x="860.00" y="933" width="1" height="3" fill="#fff"/><rect x="866.00" y="933" width="1" height="3" fill="#fff"/><rect x="873.00" y="933" width="1" height="5" fill="#fff"/><rect x="879.00" y="933" width="1" height="3" fill="#fff"/><rect x="886.00" y="933" width="1" height="3" fill="#fff"/><rect x="892.00" y="933" width="1" height="3" fill="#fff"/><rect x="898.00" y="933" width="1" height="3" fill="#fff"/><rect x="905.00" y="933" width="1" height="3" fill="#fff"/><rect x="911.00" y="933" width="1" height="3" fill="#fff"/><rect x="917.00" y="933" width="1" height="3" fill="#fff"/><rect x="924.00" y="933" width="1" height="3" fill="#fff"/><rect x="930.00" y="933" width="1" height="3" fill="#fff"/><rect x="936.00" y="933" width="1" height="3" fill="#fff"/><rect x="943.00" y="933" width="1" height="3" fill="#fff"/><rect x="949.00" y="933" width="1" height="5" fill="#fff"/><rect x="956.00" y="933" width="1" height="3" fill="#fff"/><rect x="962.00" y="933" width="1" height="3" fill="#fff"/><rect x="968.00" y="933" width="1" height="3" fill="#fff"/><rect x="975.00" y="933" width="1" height="3" fill="#fff"/><rect x="981.00" y="933" width="1" height="3" fill="#fff"/><rect x="987.00" y="933" width="1" height="3" fill="#fff"/><rect x="994.00" y="933" width="1" height="3" fill="#fff"/><rect x="1000.00" y="933" width="1" height="3" fill="#fff"/><rect x="1006.00" y="933" width="1" height="3" fill="#fff"/><rect x="1013.00" y="933" width="1" height="3" fill="#fff"/><rect x="1019.00" y="933" width="1" height="3" fill="#fff"/><rect x="1026.00" y="933" width="1" height="5" fill="#fff"/><rect x="1032.00" y="933" width="1" height="3" fill="#fff"/><rect x="1038.00" y="933" width="1" height="3" fill="#fff"/><rect x="1045.00" y="933" width="1" height="3" fill="#fff"/><rect x="1051.00" y="933" width="1" height="3" fill="#fff"/><rect x="1057.00" y="933" width="1" height="3" fill="#fff"/><rect x="1064.00" y="933" width="1" height="3" fill="#fff"/><rect x="1070.00" y="933" width="1" height="3" fill="#fff"/><rect x="1077.00" y="933" width="1" height="3" fill="#fff"/><rect x="1083.00" y="933" width="1" height="3" fill="#fff"/><rect x="1089.00" y="933" width="1" height="3" fill="#fff"/><rect x="1096.00" y="933" width="1" height="3" fill="#fff"/><rect x="1102.00" y="933" width="1" height="5" fill="#fff"/><rect x="1108.00" y="933" width="1" height="3" fill="#fff"/><rect x="1115.00" y="933" width="1" height="3" fill="#fff"/><rect x="1121.00" y="933" width="1" height="3" fill="#fff"/><rect x="1127.00" y="933" width="1" height="3" fill="#fff"/><rect x="1134.00" y="933" width="1" height="3" fill="#fff"/><rect x="1140.00" y="933" width="1" height="3" fill="#fff"/><rect x="1147.00" y="933" width="1" height="3" fill="#fff"/><rect x="1153.00" y="933" width="1" height="3" fill="#fff"/><rect x="1159.00" y="933" width="1" height="3" fill="#fff"/><rect x="1166.00" y="933" width="1" height="3" fill="#fff"/><rect x="1172.00" y="933" width="1" height="3" fill="#fff"/><rect x="1178.00" y="933" width="1" height="5" fill="#fff"/><rect x="1185.00" y="933" width="1" height="3" fill="#fff"/><rect x="1191.00" y="933" width="1" height="3" fill="#fff"/><rect x="1197.00" y="933" width="1" height="3" fill="#fff"/><rect x="1204.00" y="933" width="1" height="3" fill="#fff"/><rect x="1210.00" y="933" width="1" height="3" fill="#fff"/><rect x="1217.00" y="933" width="1" height="3" fill="#fff"/><rect x="1223.00" y="933" width="1" height="3" fill="#fff"/><rect x="1229.00" y="933" width="1" height="3" fill="#fff"/><rect x="1236.00" y="933" width="1" height="3" fill="#fff"/><rect x="1242.00" y="933" width="1" height="3" fill="#fff"/><rect x="1248.00" y="933" width="1" height="3" fill="#fff"/><rect x="1255.00" y="933" width="1" height="5" fill="#fff"/><rect x="1261.00" y="933" width="1" height="3" fill="#fff"/><rect x="1267.00" y="933" width="1" height="3" fill="#fff"/><rect x="1274.00" y="933" width="1" height="3" fill="#fff"/><rect x="1280.00" y="933" width="1" height="3" fill="#fff"/><rect x="1287.00" y="933" width="1" height="3" fill="#fff"/><rect x="1293.00" y="933" width="1" height="3" fill="#fff"/><rect x="1299.00" y="933" width="1" height="3" fill="#fff"/><rect x="1306.00" y="933" width="1" height="3" fill="#fff"/><rect x="1312.00" y="933" width="1" height="3" fill="#fff"/><rect x="1318.00" y="933" width="1" height="3" fill="#fff"/><rect x="1325.00" y="933" width="1" height="3" fill="#fff"/><rect x="1331.00" y="933" width="1" height="5" fill="#fff"/><rect x="1337.00" y="933" width="1" height="3" fill="#fff"/><rect x="1344.00" y="933" width="1" height="3" fill="#fff"/><rect x="1350.00" y="933" width="1" height="3" fill="#fff"/><rect x="1357.00" y="933" width="1" height="3" fill="#fff"/><rect x="1363.00" y="933" width="1" height="3" fill="#fff"/><rect x="1369.00" y="933" width="1" height="3" fill="#fff"/><rect x="1376.00" y="933" width="1" height="3" fill="#fff"/><rect x="1382.00" y="933" width="1" height="3" fill="#fff"/><rect x="1388.00" y="933" width="1" height="3" fill="#fff"/><rect x="1395.00" y="933" width="1" height="3" fill="#fff"/><rect x="1401.00" y="933" width="1" height="3" fill="#fff"/><rect x="1407.00" y="933" width="1" height="5" fill="#fff"/><rect x="1414.00" y="933" width="1" height="3" fill="#fff"/><rect x="1420.00" y="933" width="1" height="3" fill="#fff"/><rect x="1427.00" y="933" width="1" height="3" fill="#fff"/><rect x="1433.00" y="933" width="1" height="3" fill="#fff"/><rect x="1439.00" y="933" width="1" height="3" fill="#fff"/><rect x="1446.00" y="933" width="1" height="3" fill="#fff"/><rect x="1452.00" y="933" width="1" height="3" fill="#fff"/><rect x="1458.00" y="933" width="1" height="3" fill="#fff"/><rect x="1465.00" y="933" width="1" height="3" fill="#fff"/><rect x="1471.00" y="933" width="1" height="3" fill="#fff"/><rect x="1478.00" y="933" width="1" height="3" fill="#fff"/><rect x="1484.00" y="933" width="1" height="5" fill="#fff"/><rect x="1490.00" y="933" width="1" height="3" fill="#fff"/><rect x="1497.00" y="933" width="1" height="3" fill="#fff"/><rect x="1503.00" y="933" width="1" height="3" fill="#fff"/><rect x="1509.00" y="933" width="1" height="3" fill="#fff"/><rect x="1516.00" y="933" width="1" height="3" fill="#fff"/><rect x="1522.00" y="933" width="1" height="3" fill="#fff"/><rect x="1528.00" y="933" width="1" height="3" fill="#fff"/><rect x="1535.00" y="933" width="1" height="3" fill="#fff"/><rect x="1541.00" y="933" width="1" height="3" fill="#fff"/><rect x="1548.00" y="933" width="1" height="3" fill="#fff"/><rect x="1554.00" y="933" width="1" height="3" fill="#fff"/><rect x="1560.00" y="933" width="1" height="5" fill="#fff"/><rect x="1567.00" y="933" width="1" height="3" fill="#fff"/><rect x="1573.00" y="933" width="1" height="3" fill="#fff"/><rect x="1579.00" y="933" width="1" height="3" fill="#fff"/><rect x="1586.00" y="933" width="1" height="3" fill="#fff"/><rect x="1592.00" y="933" width="1" height="3" fill="#fff"/><rect x="1598.00" y="933" width="1" height="3" fill="#fff"/><rect x="1605.00" y="933" width="1" height="3" fill="#fff"/><rect x="1611.00" y="933" width="1" height="3" fill="#fff"/><rect x="1618.00" y="933" width="1" height="3" fill="#fff"/><rect x="1624.00" y="933" width="1" height="3" fill="#fff"/><rect x="1630.00" y="933" width="1" height="3" fill="#fff"/><rect x="1637.00" y="933" width="1" height="5" fill="#fff"/><rect x="1643.00" y="933" width="1" height="3" fill="#fff"/><rect x="1649.00" y="933" width="1" height="3" fill="#fff"/><rect x="1656.00" y="933" width="1" height="3" fill="#fff"/><rect x="1662.00" y="933" width="1" height="3" fill="#fff"/><rect x="1668.00" y="933" width="1" height="3" fill="#fff"/><rect x="1675.00" y="933" width="1" height="3" fill="#fff"/><rect x="1681.00" y="933" width="1" height="3" fill="#fff"/><rect x="1688.00" y="933" width="1" height="3" fill="#fff"/><rect x="1694.00" y="933" width="1" height="3" fill="#fff"/><rect x="1700.00" y="933" width="1" height="3" fill="#fff"/><rect x="1707.00" y="933" width="1" height="3" fill="#fff"/><rect x="1713.00" y="933" width="1" height="5" fill="#fff"/><rect x="1719.00" y="933" width="1" height="3" fill="#fff"/><rect x="1726.00" y="933" width="1" height="3" fill="#fff"/><rect x="1732.00" y="933" width="1" height="3" fill="#fff"/><rect x="1738.00" y="933" width="1" height="3" fill="#fff"/><rect x="1745.00" y="933" width="1" height="3" fill="#fff"/><rect x="1751.00" y="933" width="1" height="3" fill="#fff"/><rect x="1758.00" y="933" width="1" height="3" fill="#fff"/><rect x="1764.00" y="933" width="1" height="3" fill="#fff"/><rect x="1770.00" y="933" width="1" height="3" fill="#fff"/><rect x="1777.00" y="933" width="1" height="3" fill="#fff"/><rect x="1783.00" y="933" width="1" height="3" fill="#fff"/><rect x="1789.00" y="933" width="1" height="5" fill="#fff"/><rect x="1796.00" y="933" width="1" height="3" fill="#fff"/><rect x="1802.00" y="933" width="1" height="3" fill="#fff"/><rect x="52.00" y="933" width="1" height="5" fill="#fff"/><rect x="1803.00" y="933" width="1" height="5" fill="#fff"/><defs><linearGradient id="cb" x1="0" y1="1" x2="0" y2="0"><stop offset="0.0000" stop-color="#1c3878"/><stop offset="0.0160" stop-color="#1c3a80"/><stop offset="0.0950" stop-color="#1c4c88"/><stop offset="0.1470" stop-color="#1868a0"/><stop offset="0.1870" stop-color="#1088b8"/><stop offset="0.2110" stop-color="#10b0c0"/><stop offset="0.2400" stop-color="#18a898"/><stop offset="0.2750" stop-color="#20a078"/><stop offset="0.3100" stop-color="#309858"/><stop offset="0.3450" stop-color="#3a8c48"/><stop offset="0.3750" stop-color="#40a03c"/><stop offset="0.3980" stop-color="#58aa40"/><stop offset="0.4150" stop-color="#70b838"/><stop offset="0.4450" stop-color="#90c430"/><stop offset="0.4620" stop-color="#98c828"/><stop offset="0.4970" stop-color="#b8d028"/><stop offset="0.5200" stop-color="#d0dc20"/><stop offset="0.5440" stop-color="#e0e818"/><stop offset="0.5790" stop-color="#f0f010"/><stop offset="0.5900" stop-color="#f0e810"/><stop offset="0.5940" stop-color="#f8c400"/><stop offset="0.6100" stop-color="#f8b800"/><stop offset="0.6490" stop-color="#f8a010"/><stop offset="0.7010" stop-color="#f08818"/><stop offset="0.7540" stop-color="#f07020"/><stop offset="0.7950" stop-color="#f06028"/><stop offset="0.8320" stop-color="#e04a40"/><stop offset="0.8580" stop-color="#e02820"/><stop offset="0.9000" stop-color="#e01838"/><stop offset="0.9520" stop-color="#dc1050"/><stop offset="1.0000" stop-color="#d8105a"/></linearGradient></defs><rect x="1841" y="74" width="18" height="3" fill="#ee5590"/><rect x="1841" y="79" width="18" height="857" fill="url(#cb)"/><rect x="1841" y="937" width="18" height="3" fill="#fff"/></svg>
<div id="tx">
<div class="t b" style="left:809.0px;top:6px">AOS</div>
<div class="t b" style="left:838.0px;top:6px">Thu 16 Apr 2026 19:30:39</div>
<div class="t b" style="left:971.0px;top:6px">AOS</div>
<div class="t b" style="left:718.0px;top:18px">CoordSystem:121f05</div>
<div class="t b" style="left:832.0px;top:18px">SensorID:121f05</div>
<div class="t b" style="left:926.0px;top:18px">Axis:sum</div>
<div class="t b" style="left:986.0px;top:18px">Windowing:Hanning</div>
<div class="t b" style="left:619.0px;top:30px">Cuttoff(Hz):200</div>
<div class="t b" style="left:715.0px;top:30px">df(Hz):0.2441</div>
<div class="t b" style="left:800.0px;top:30px">Sample/Sec:500</div>
<div class="t b" style="left:900.6px;top:30px">PSD size:2048</div>
<div class="t b" style="left:994.0px;top:30px">Overlap(%):0</div>
<div class="t b" style="left:1082.5px;top:30px">TimeRes.(sec):4.096</div>
<div class="t" style="left:22.0px;top:51px;width:60px;text-align:center">4094</div>
<div class="t" style="left:80.4px;top:51px;width:60px;text-align:center">4150</div>
<div class="t" style="left:132.5px;top:51px;width:60px;text-align:center">4200</div>
<div class="t" style="left:184.7px;top:51px;width:60px;text-align:center">4250</div>
<div class="t" style="left:236.8px;top:51px;width:60px;text-align:center">4300</div>
<div class="t" style="left:289.0px;top:51px;width:60px;text-align:center">4350</div>
<div class="t" style="left:341.1px;top:51px;width:60px;text-align:center">4400</div>
<div class="t" style="left:393.3px;top:51px;width:60px;text-align:center">4450</div>
<div class="t" style="left:445.4px;top:51px;width:60px;text-align:center">4500</div>
<div class="t" style="left:497.5px;top:51px;width:60px;text-align:center">4550</div>
<div class="t" style="left:549.7px;top:51px;width:60px;text-align:center">4600</div>
<div class="t" style="left:601.8px;top:51px;width:60px;text-align:center">4650</div>
<div class="t" style="left:654.0px;top:51px;width:60px;text-align:center">4700</div>
<div class="t" style="left:706.1px;top:51px;width:60px;text-align:center">4750</div>
<div class="t" style="left:758.3px;top:51px;width:60px;text-align:center">4800</div>
<div class="t" style="left:810.4px;top:51px;width:60px;text-align:center">4850</div>
<div class="t" style="left:862.5px;top:51px;width:60px;text-align:center">4900</div>
<div class="t" style="left:914.7px;top:51px;width:60px;text-align:center">4950</div>
<div class="t" style="left:966.8px;top:51px;width:60px;text-align:center">5000</div>
<div class="t" style="left:1019.0px;top:51px;width:60px;text-align:center">5050</div>
<div class="t" style="left:1071.1px;top:51px;width:60px;text-align:center">5100</div>
<div class="t" style="left:1123.3px;top:51px;width:60px;text-align:center">5150</div>
<div class="t" style="left:1175.4px;top:51px;width:60px;text-align:center">5200</div>
<div class="t" style="left:1227.5px;top:51px;width:60px;text-align:center">5250</div>
<div class="t" style="left:1279.7px;top:51px;width:60px;text-align:center">5300</div>
<div class="t" style="left:1331.8px;top:51px;width:60px;text-align:center">5350</div>
<div class="t" style="left:1384.0px;top:51px;width:60px;text-align:center">5400</div>
<div class="t" style="left:1436.1px;top:51px;width:60px;text-align:center">5450</div>
<div class="t" style="left:1488.3px;top:51px;width:60px;text-align:center">5500</div>
<div class="t" style="left:1540.4px;top:51px;width:60px;text-align:center">5550</div>
<div class="t" style="left:1592.5px;top:51px;width:60px;text-align:center">5600</div>
<div class="t" style="left:1644.7px;top:51px;width:60px;text-align:center">5650</div>
<div class="t" style="left:1696.8px;top:51px;width:60px;text-align:center">5700</div>
<div class="t" style="left:1749.0px;top:51px;width:60px;text-align:center">5750</div>
<div class="t" style="left:1774.0px;top:51px;width:60px;text-align:center">5774</div>
<div class="t" style="left:0px;top:924.0px;width:43px;text-align:right">0</div>
<div class="t" style="left:0px;top:902.5px;width:43px;text-align:right">5</div>
<div class="t" style="left:0px;top:881.0px;width:43px;text-align:right">10</div>
<div class="t" style="left:0px;top:859.5px;width:43px;text-align:right">15</div>
<div class="t" style="left:0px;top:838.0px;width:43px;text-align:right">20</div>
<div class="t" style="left:0px;top:816.5px;width:43px;text-align:right">25</div>
<div class="t" style="left:0px;top:795.0px;width:43px;text-align:right">30</div>
<div class="t" style="left:0px;top:773.5px;width:43px;text-align:right">35</div>
<div class="t" style="left:0px;top:752.0px;width:43px;text-align:right">40</div>
<div class="t" style="left:0px;top:730.5px;width:43px;text-align:right">45</div>
<div class="t" style="left:0px;top:709.0px;width:43px;text-align:right">50</div>
<div class="t" style="left:0px;top:687.5px;width:43px;text-align:right">55</div>
<div class="t" style="left:0px;top:666.0px;width:43px;text-align:right">60</div>
<div class="t" style="left:0px;top:644.5px;width:43px;text-align:right">65</div>
<div class="t" style="left:0px;top:623.0px;width:43px;text-align:right">70</div>
<div class="t" style="left:0px;top:601.5px;width:43px;text-align:right">75</div>
<div class="t" style="left:0px;top:580.0px;width:43px;text-align:right">80</div>
<div class="t" style="left:0px;top:558.5px;width:43px;text-align:right">85</div>
<div class="t" style="left:0px;top:537.0px;width:43px;text-align:right">90</div>
<div class="t" style="left:0px;top:515.5px;width:43px;text-align:right">95</div>
<div class="t" style="left:0px;top:494.0px;width:43px;text-align:right">100</div>
<div class="t" style="left:0px;top:472.5px;width:43px;text-align:right">105</div>
<div class="t" style="left:0px;top:451.0px;width:43px;text-align:right">110</div>
<div class="t" style="left:0px;top:429.5px;width:43px;text-align:right">115</div>
<div class="t" style="left:0px;top:408.0px;width:43px;text-align:right">120</div>
<div class="t" style="left:0px;top:386.5px;width:43px;text-align:right">125</div>
<div class="t" style="left:0px;top:365.0px;width:43px;text-align:right">130</div>
<div class="t" style="left:0px;top:343.5px;width:43px;text-align:right">135</div>
<div class="t" style="left:0px;top:322.0px;width:43px;text-align:right">140</div>
<div class="t" style="left:0px;top:300.5px;width:43px;text-align:right">145</div>
<div class="t" style="left:0px;top:279.0px;width:43px;text-align:right">150</div>
<div class="t" style="left:0px;top:257.5px;width:43px;text-align:right">155</div>
<div class="t" style="left:0px;top:236.0px;width:43px;text-align:right">160</div>
<div class="t" style="left:0px;top:214.5px;width:43px;text-align:right">165</div>
<div class="t" style="left:0px;top:193.0px;width:43px;text-align:right">170</div>
<div class="t" style="left:0px;top:171.5px;width:43px;text-align:right">175</div>
<div class="t" style="left:0px;top:150.0px;width:43px;text-align:right">180</div>
<div class="t" style="left:0px;top:128.5px;width:43px;text-align:right">185</div>
<div class="t" style="left:0px;top:107.0px;width:43px;text-align:right">190</div>
<div class="t" style="left:0px;top:85.5px;width:43px;text-align:right">195</div>
<div class="t" style="left:0px;top:64.0px;width:43px;text-align:right">200</div>
<div class="t" style="left:12.0px;top:938px;width:80px;text-align:center">17:36:14.123<br>04/16/2026</div>
<div class="t" style="left:145.9px;top:938px;width:80px;text-align:center">17:45:00.000<br>04/16/2026</div>
<div class="t" style="left:222.3px;top:938px;width:80px;text-align:center">17:50:00.000<br>04/16/2026</div>
<div class="t" style="left:298.7px;top:938px;width:80px;text-align:center">17:55:00.000<br>04/16/2026</div>
<div class="t" style="left:375.0px;top:938px;width:80px;text-align:center">18:00:00.000<br>04/16/2026</div>
<div class="t" style="left:451.4px;top:938px;width:80px;text-align:center">18:05:00.000<br>04/16/2026</div>
<div class="t" style="left:527.8px;top:938px;width:80px;text-align:center">18:10:00.000<br>04/16/2026</div>
<div class="t" style="left:604.2px;top:938px;width:80px;text-align:center">18:15:00.000<br>04/16/2026</div>
<div class="t" style="left:680.6px;top:938px;width:80px;text-align:center">18:20:00.000<br>04/16/2026</div>
<div class="t" style="left:756.9px;top:938px;width:80px;text-align:center">18:25:00.000<br>04/16/2026</div>
<div class="t" style="left:833.3px;top:938px;width:80px;text-align:center">18:30:00.000<br>04/16/2026</div>
<div class="t" style="left:909.7px;top:938px;width:80px;text-align:center">18:35:00.000<br>04/16/2026</div>
<div class="t" style="left:986.1px;top:938px;width:80px;text-align:center">18:40:00.000<br>04/16/2026</div>
<div class="t" style="left:1062.5px;top:938px;width:80px;text-align:center">18:45:00.000<br>04/16/2026</div>
<div class="t" style="left:1138.8px;top:938px;width:80px;text-align:center">18:50:00.000<br>04/16/2026</div>
<div class="t" style="left:1215.2px;top:938px;width:80px;text-align:center">18:55:00.000<br>04/16/2026</div>
<div class="t" style="left:1291.6px;top:938px;width:80px;text-align:center">19:00:00.000<br>04/16/2026</div>
<div class="t" style="left:1368.0px;top:938px;width:80px;text-align:center">19:05:00.000<br>04/16/2026</div>
<div class="t" style="left:1444.4px;top:938px;width:80px;text-align:center">19:10:00.000<br>04/16/2026</div>
<div class="t" style="left:1520.8px;top:938px;width:80px;text-align:center">19:15:00.000<br>04/16/2026</div>
<div class="t" style="left:1597.1px;top:938px;width:80px;text-align:center">19:20:00.000<br>04/16/2026</div>
<div class="t" style="left:1673.5px;top:938px;width:80px;text-align:center">19:25:00.000<br>04/16/2026</div>
<div class="t" style="left:1764.0px;top:938px;width:80px;text-align:center">19:30:55.403<br>04/16/2026</div>
<div class="t" style="left:915px;top:963px">Time</div>
<div class="t" style="left:1869px;top:73px">-5.00</div>
<div class="t" style="left:1869px;top:501px">-9.00</div>
<div class="t" style="left:1869px;top:929px">-13.00</div>
<div class="t" style="left:1848px;top:504px;width:130px;text-align:center;transform:rotate(90deg);font-size:11px">Amplitude(Log10(g^2/Hz))</div>
</div></body></html>
